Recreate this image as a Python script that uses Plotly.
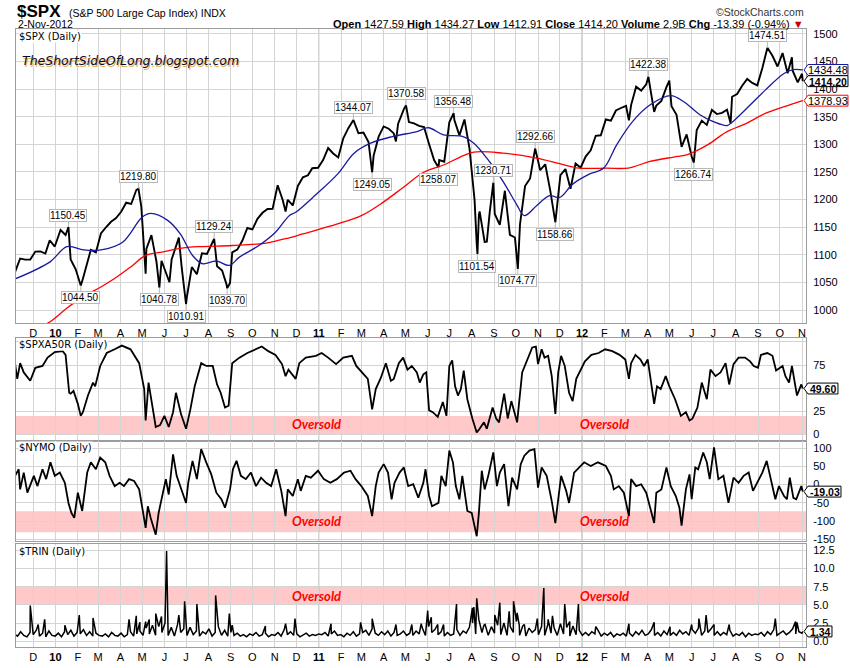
import numpy as np
import pandas as pd
import plotly.graph_objects as go

# ---------------- DATA ----------------
SPX = [
("2009-11-05",1066.6),("2009-11-06",1069.3),("2009-11-13",1093.5),("2009-11-20",1091.4),
("2009-11-27",1091.5),("2009-12-04",1106.0),("2009-12-11",1106.4),("2009-12-18",1102.5),
("2009-12-24",1126.5),("2009-12-31",1115.1),
("2010-01-08",1145.0),("2010-01-15",1136.0),("2010-01-19",1150.45),("2010-01-22",1091.8),
("2010-01-29",1073.9),("2010-02-05",1044.5),("2010-02-08",1056.7),("2010-02-12",1075.5),
("2010-02-19",1109.2),("2010-02-26",1104.5),("2010-03-05",1138.7),("2010-03-12",1150.0),
("2010-03-19",1159.9),("2010-03-26",1166.6),("2010-04-02",1178.1),("2010-04-09",1194.4),
("2010-04-16",1192.1),("2010-04-23",1217.3),("2010-04-26",1219.8),("2010-04-30",1186.7),
("2010-05-06",1065.8),("2010-05-07",1110.9),("2010-05-14",1135.7),("2010-05-21",1087.7),
("2010-05-25",1040.78),("2010-05-28",1089.4),("2010-06-04",1064.9),("2010-06-08",1050.5),
("2010-06-11",1091.6),("2010-06-18",1117.5),("2010-06-21",1131.2),("2010-06-25",1076.8),
("2010-07-01",1010.91),("2010-07-02",1022.6),("2010-07-09",1078.0),("2010-07-16",1064.9),
("2010-07-23",1102.7),("2010-07-30",1101.6),("2010-08-06",1121.6),("2010-08-09",1129.24),
("2010-08-13",1079.3),("2010-08-20",1071.7),("2010-08-26",1047.2),("2010-08-27",1039.7),
("2010-08-31",1049.3),("2010-09-03",1104.5),("2010-09-10",1109.6),("2010-09-17",1125.6),
("2010-09-24",1148.7),("2010-10-01",1146.2),("2010-10-08",1165.2),("2010-10-15",1176.2),
("2010-10-22",1183.1),("2010-10-29",1183.3),("2010-11-05",1225.9),("2010-11-12",1199.2),
("2010-11-16",1178.3),("2010-11-19",1199.7),("2010-11-26",1189.4),("2010-12-03",1224.7),
("2010-12-10",1240.4),("2010-12-17",1243.9),("2010-12-23",1256.8),("2010-12-31",1257.6),
("2011-01-07",1271.5),("2011-01-14",1293.2),("2011-01-21",1283.4),("2011-01-28",1276.3),
("2011-02-04",1310.9),("2011-02-11",1329.2),("2011-02-18",1344.07),("2011-02-25",1319.9),
("2011-03-04",1321.2),("2011-03-11",1304.3),("2011-03-16",1249.05),("2011-03-18",1279.2),
("2011-03-25",1313.8),("2011-04-01",1332.4),("2011-04-08",1328.2),("2011-04-15",1319.7),
("2011-04-18",1305.1),("2011-04-21",1337.4),("2011-04-29",1363.6),("2011-05-02",1370.58),
("2011-05-06",1340.2),("2011-05-13",1337.8),("2011-05-20",1333.3),("2011-05-27",1331.1),
("2011-06-03",1300.2),("2011-06-10",1271.0),("2011-06-16",1258.07),("2011-06-17",1271.5),
("2011-06-24",1268.5),("2011-07-01",1339.7),("2011-07-07",1356.48),("2011-07-08",1343.8),
("2011-07-15",1316.1),("2011-07-22",1345.0),("2011-07-29",1292.3),("2011-08-05",1199.4),
("2011-08-08",1119.5),("2011-08-09",1101.54),("2011-08-11",1172.6),("2011-08-12",1178.8),
("2011-08-19",1123.5),("2011-08-22",1123.8),("2011-08-26",1176.8),("2011-08-31",1230.71),
("2011-09-02",1174.0),("2011-09-09",1154.2),("2011-09-16",1216.0),("2011-09-23",1136.4),
("2011-09-30",1131.4),("2011-10-04",1074.77),("2011-10-07",1155.5),("2011-10-14",1224.6),
("2011-10-21",1238.3),("2011-10-28",1292.66),("2011-11-04",1253.2),("2011-11-11",1263.9),
("2011-11-18",1215.7),("2011-11-25",1158.66),("2011-12-02",1244.3),("2011-12-09",1255.2),
("2011-12-16",1219.7),("2011-12-23",1265.3),("2011-12-30",1257.6),
("2012-01-06",1277.8),("2012-01-13",1289.1),("2012-01-20",1315.4),("2012-01-27",1316.3),
("2012-02-03",1344.9),("2012-02-10",1342.6),("2012-02-17",1361.2),("2012-02-24",1365.7),
("2012-03-02",1369.6),("2012-03-06",1343.4),("2012-03-09",1370.9),("2012-03-16",1404.2),
("2012-03-23",1397.1),("2012-03-30",1408.5),("2012-04-02",1422.38),("2012-04-05",1398.1),
("2012-04-10",1358.6),("2012-04-13",1370.3),("2012-04-20",1378.5),("2012-04-27",1403.4),
("2012-05-01",1415.3),("2012-05-04",1369.1),("2012-05-11",1353.4),("2012-05-18",1295.2),
("2012-05-25",1317.8),("2012-06-01",1278.0),("2012-06-04",1266.74),("2012-06-08",1325.7),
("2012-06-15",1342.8),("2012-06-22",1335.0),("2012-06-29",1362.2),("2012-07-06",1354.7),
("2012-07-13",1356.8),("2012-07-20",1362.7),("2012-07-25",1337.9),("2012-07-27",1386.0),
("2012-08-03",1391.0),("2012-08-10",1405.9),("2012-08-17",1418.2),("2012-08-24",1411.1),
("2012-08-31",1406.6),("2012-09-07",1437.9),("2012-09-14",1474.51),("2012-09-21",1460.2),
("2012-09-28",1440.7),("2012-10-05",1465.0),("2012-10-12",1428.6),("2012-10-18",1457.3),
("2012-10-19",1433.2),("2012-10-26",1411.9),("2012-11-01",1427.6),("2012-11-02",1414.2),
]

MA50 = [
("2009-11-05",1056),("2009-12-24",1087),("2010-01-17",1115),("2010-02-09",1109),("2010-03-05",1109),
("2010-04-04",1123),("2010-05-01",1168),("2010-05-13",1175),("2010-06-06",1162),("2010-06-23",1138),
("2010-07-10",1099),("2010-07-24",1084),("2010-08-12",1089),("2010-08-30",1081),("2010-09-13",1096),
("2010-10-10",1117),("2010-11-02",1141),("2010-11-21",1171),("2010-11-30",1177),("2010-12-29",1210),
("2011-01-27",1246),("2011-02-19",1284),("2011-03-14",1302),("2011-04-13",1314),("2011-05-17",1323),
("2011-06-02",1330),("2011-06-23",1317),("2011-07-20",1314),("2011-08-04",1302),("2011-08-22",1275),
("2011-09-13",1234),("2011-10-02",1192),("2011-10-13",1171),("2011-10-30",1189),("2011-11-17",1207),
("2011-12-01",1204),("2011-12-19",1228),("2012-01-11",1246),("2012-01-31",1257),("2012-02-18",1299),
("2012-03-11",1341),("2012-04-04",1371),("2012-05-03",1388),("2012-05-21",1377),("2012-06-13",1353),
("2012-07-01",1341),("2012-07-20",1334),("2012-07-28",1341),("2012-08-21",1371),("2012-09-11",1398),
("2012-10-07",1428),("2012-10-20",1435),("2012-11-02",1434.48),
]

MA200 = [
("2009-11-05",950),("2009-12-22",977),("2010-01-17",1004),("2010-02-09",1025),("2010-03-05",1042),
("2010-03-27",1060),("2010-04-18",1081),("2010-05-06",1099),("2010-06-01",1106),("2010-06-23",1112),
("2010-07-20",1115),("2010-09-03",1117),("2010-10-18",1121),("2010-11-21",1131),("2010-12-10",1138),
("2011-01-27",1156),("2011-03-01",1171),("2011-03-31",1195),("2011-04-28",1222),("2011-05-26",1249),
("2011-06-24",1263),("2011-07-16",1277),("2011-08-04",1286),("2011-09-13",1284),("2011-10-30",1275),
("2011-12-01",1265),("2011-12-28",1257),("2012-02-04",1257),("2012-03-05",1257),("2012-04-04",1269),
("2012-05-07",1277),("2012-05-25",1281),("2012-06-23",1299),("2012-07-20",1323),("2012-08-16",1338),
("2012-09-11",1356),("2012-10-14",1371),("2012-11-02",1378.93),
]

# swing-point labels: (date, value, H = above / L = below)
PIVOTS = [
("2010-01-19",1150.45,"H"),("2010-02-05",1044.50,"L"),("2010-04-26",1219.80,"H"),
("2010-05-25",1040.78,"L"),("2010-07-01",1010.91,"L"),("2010-08-09",1129.24,"H"),
("2010-08-27",1039.70,"L"),("2011-02-18",1344.07,"H"),("2011-03-16",1249.05,"L"),
("2011-05-02",1370.58,"H"),("2011-06-16",1258.07,"L"),("2011-07-07",1356.48,"H"),
("2011-08-09",1101.54,"L"),("2011-08-31",1230.71,"H"),("2011-10-04",1074.77,"L"),
("2011-10-28",1292.66,"H"),("2011-11-25",1158.66,"L"),("2012-04-02",1422.38,"H"),
("2012-06-04",1266.74,"L"),("2012-09-14",1474.51,"H"),
]

SPXA50R = [
("2009-11-06",76),("2009-11-09",60),("2009-11-13",77),("2009-11-18",67),("2009-11-27",58),
("2009-12-04",72),("2009-12-14",74),("2009-12-21",83),("2009-12-31",89),("2010-01-11",90),
("2010-01-15",86),("2010-01-20",45),("2010-01-22",44),("2010-01-26",47),("2010-02-01",33),
("2010-02-05",20),("2010-02-08",24),("2010-02-15",42),("2010-02-22",56),("2010-02-25",52),
("2010-03-04",74),("2010-03-13",88),("2010-03-24",92),("2010-04-03",96),("2010-04-15",92),
("2010-04-22",83),("2010-04-27",77),("2010-05-04",49),("2010-05-06",15),("2010-05-10",56),
("2010-05-14",38),("2010-05-20",8),("2010-05-26",10),("2010-06-01",20),("2010-06-07",8),
("2010-06-13",24),("2010-06-17",45),("2010-06-24",22),("2010-07-01",6),("2010-07-07",27),
("2010-07-13",52),("2010-07-22",77),("2010-07-29",74),("2010-08-07",74),("2010-08-13",54),
("2010-08-18",45),("2010-08-24",29),("2010-08-29",31),("2010-09-03",77),("2010-09-13",83),
("2010-09-24",88),("2010-10-05",92),("2010-10-14",95),("2010-10-23",90),("2010-11-02",86),
("2010-11-11",76),("2010-11-16",63),("2010-11-20",70),("2010-11-30",60),("2010-12-05",77),
("2010-12-14",83),("2010-12-28",85),("2011-01-05",88),("2011-01-14",83),("2011-01-25",76),
("2011-02-04",83),("2011-02-16",85),("2011-02-22",74),("2011-03-02",67),("2011-03-10",60),
("2011-03-16",27),("2011-03-21",49),("2011-03-28",61),("2011-04-04",77),("2011-04-11",58),
("2011-04-15",60),("2011-04-22",77),("2011-04-28",83),("2011-05-04",70),("2011-05-10",74),
("2011-05-17",67),("2011-05-21",56),("2011-05-26",65),("2011-05-30",67),("2011-06-03",26),
("2011-06-08",24),("2011-06-15",19),("2011-06-22",35),("2011-06-27",20),("2011-07-01",74),
("2011-07-05",80),("2011-07-09",52),("2011-07-13",42),("2011-07-17",49),("2011-07-21",69),
("2011-07-26",38),("2011-08-02",17),("2011-08-08",2),("2011-08-12",6),("2011-08-18",13),
("2011-08-22",6),("2011-08-30",29),("2011-09-04",17),("2011-09-08",13),("2011-09-15",44),
("2011-09-20",17),("2011-09-25",36),("2011-10-03",13),("2011-10-10",67),("2011-10-17",81),
("2011-10-24",94),("2011-10-29",95),("2011-11-01",76),("2011-11-06",92),("2011-11-10",83),
("2011-11-15",85),("2011-11-20",63),("2011-11-25",22),("2011-11-29",67),("2011-12-03",85),
("2011-12-08",74),("2011-12-14",45),("2011-12-19",36),("2011-12-24",60),("2011-12-30",70),
("2012-01-05",79),("2012-01-14",86),("2012-01-24",88),("2012-02-02",92),("2012-02-12",90),
("2012-02-22",86),("2012-03-01",81),("2012-03-06",60),("2012-03-09",77),("2012-03-15",86),
("2012-03-22",81),("2012-03-27",74),("2012-04-01",81),("2012-04-05",60),("2012-04-10",33),
("2012-04-14",52),("2012-04-19",49),("2012-04-26",63),("2012-05-01",52),("2012-05-09",38),
("2012-05-17",20),("2012-05-24",24),("2012-05-29",15),("2012-06-02",17),("2012-06-09",29),
("2012-06-15",56),("2012-06-22",38),("2012-06-27",70),("2012-07-04",63),("2012-07-11",67),
("2012-07-18",77),("2012-07-23",54),("2012-07-29",76),("2012-08-05",83),("2012-08-14",83),
("2012-08-21",79),("2012-08-26",74),("2012-09-01",72),("2012-09-05",86),("2012-09-14",88),
("2012-09-21",85),("2012-09-26",69),("2012-10-05",74),("2012-10-09",63),("2012-10-14",56),
("2012-10-18",74),("2012-10-25",42),("2012-10-31",54),("2012-11-02",49.6),
]

NYMO = [
("2009-11-06",24),("2009-11-11",42),("2009-11-13",-13),("2009-11-18",33),("2009-11-23",-22),
("2009-11-28",5),("2009-12-02",24),("2009-12-07",-4),("2009-12-14",42),("2009-12-19",15),
("2009-12-25",61),("2009-12-31",24),("2010-01-07",33),("2010-01-14",5),("2010-01-19",-50),
("2010-01-23",-77),("2010-01-27",-91),("2010-02-01",-22),("2010-02-07",-72),("2010-02-14",33),
("2010-02-19",61),("2010-02-26",42),("2010-03-04",74),("2010-03-11",61),("2010-03-17",24),
("2010-03-24",-4),("2010-03-31",5),("2010-04-06",-4),("2010-04-13",15),("2010-04-20",10),
("2010-04-27",-13),("2010-05-06",-118),("2010-05-09",-59),("2010-05-13",-91),("2010-05-20",-137),
("2010-05-24",-77),("2010-05-29",-31),("2010-06-03",15),("2010-06-07",-27),("2010-06-13",83),
("2010-06-18",24),("2010-06-25",-13),("2010-07-01",-50),("2010-07-04",5),("2010-07-10",65),
("2010-07-16",15),("2010-07-22",97),("2010-07-29",61),("2010-08-05",28),("2010-08-12",-22),
("2010-08-19",-40),("2010-08-24",-63),("2010-08-31",-13),("2010-09-04",42),("2010-09-09",65),
("2010-09-15",24),("2010-09-22",15),("2010-09-29",33),("2010-10-06",-4),("2010-10-13",19),
("2010-10-20",5),("2010-10-27",-4),("2010-11-03",42),("2010-11-10",-17),("2010-11-16",-86),
("2010-11-19",-13),("2010-11-26",-31),("2010-12-03",15),("2010-12-07",-17),("2010-12-14",24),
("2010-12-21",19),("2010-12-31",38),("2011-01-08",15),("2011-01-17",5),("2011-01-26",15),
("2011-02-05",33),("2011-02-14",38),("2011-02-21",15),("2011-03-01",-4),("2011-03-10",-31),
("2011-03-16",-86),("2011-03-21",-4),("2011-03-25",33),("2011-04-01",56),("2011-04-07",33),
("2011-04-12",-40),("2011-04-16",5),("2011-04-23",33),("2011-04-29",47),("2011-05-05",-4),
("2011-05-12",1),("2011-05-19",-36),("2011-05-26",5),("2011-05-29",42),("2011-06-03",-31),
("2011-06-07",-59),("2011-06-16",-50),("2011-06-20",24),("2011-06-26",-4),("2011-07-01",93),
("2011-07-06",61),("2011-07-10",-4),("2011-07-15",-40),("2011-07-19",24),("2011-07-26",-72),
("2011-08-01",-77),("2011-08-08",-141),("2011-08-11",-77),("2011-08-15",38),("2011-08-19",-13),
("2011-08-24",24),("2011-08-31",88),("2011-09-05",-4),("2011-09-09",33),("2011-09-15",56),
("2011-09-21",-59),("2011-09-26",19),("2011-10-03",-13),("2011-10-08",56),("2011-10-13",79),
("2011-10-20",93),("2011-10-27",97),("2011-11-01",-8),("2011-11-06",47),("2011-11-13",24),
("2011-11-20",-45),("2011-11-25",-105),("2011-11-29",-40),("2011-12-03",24),("2011-12-10",-17),
("2011-12-14",-50),("2011-12-21",33),("2011-12-28",47),("2012-01-04",61),("2012-01-13",51),
("2012-01-23",61),("2012-02-03",51),("2012-02-10",24),("2012-02-14",-13),("2012-02-21",-4),
("2012-02-28",-22),("2012-03-06",-86),("2012-03-09",15),("2012-03-16",-4),("2012-03-23",1),
("2012-03-30",-22),("2012-04-10",-105),("2012-04-13",-22),("2012-04-20",-13),("2012-04-27",47),
("2012-05-03",-4),("2012-05-10",-31),("2012-05-15",-63),("2012-05-18",-112),("2012-05-24",-13),
("2012-05-29",28),("2012-06-01",-40),("2012-06-06",47),("2012-06-10",42),("2012-06-17",88),
("2012-06-22",61),("2012-06-26",15),("2012-07-02",102),("2012-07-08",15),("2012-07-15",24),
("2012-07-22",-50),("2012-07-29",19),("2012-08-05",5),("2012-08-12",24),("2012-08-19",33),
("2012-08-25",-17),("2012-08-31",5),("2012-09-07",33),("2012-09-13",65),("2012-09-20",5),
("2012-09-25",-40),("2012-09-30",-4),("2012-10-07",-31),("2012-10-11",-40),("2012-10-15",19),
("2012-10-20",-36),("2012-10-24",-40),("2012-10-31",-4),("2012-11-02",-19.03),
]

# TRIN: everyday readings (evenly spread over the period) + the visible spikes
TRIN_BASE = [
1.0,0.7,1.3,0.8,0.6,1.2,0.9,1.5,0.7,1.1,0.6,1.4,0.8,0.7,
1.1,0.6,1.3,0.9,1.5,0.7,1.2,1.0,1.6,0.8,1.3,0.7,1.1,0.8,
0.7,1.0,0.6,1.2,0.8,0.7,1.1,0.6,0.9,1.3,0.7,1.0,1.4,0.8,
1.8,1.0,2.2,0.8,2.0,1.2,2.5,0.8,1.9,0.7,2.3,1.2,1.7,0.8,
1.9,0.9,1.4,0.7,1.3,1.0,1.7,0.7,1.2,2.0,0.8,1.5,0.7,1.2,
0.8,1.1,0.7,0.9,0.6,1.0,0.8,1.2,0.7,0.9,1.1,0.6,0.9,0.8,
1.2,0.7,1.6,0.9,1.3,0.8,1.0,0.6,0.9,1.1,0.7,0.9,0.8,1.0,
0.9,1.2,0.7,1.0,1.4,0.8,0.9,0.6,1.1,0.8,1.3,0.7,1.0,1.2,
1.5,0.8,1.7,1.1,0.8,1.3,0.9,1.4,0.7,1.2,0.8,1.0,1.4,0.8,
1.1,0.8,1.4,1.0,1.8,0.8,2.0,1.2,1.6,0.9,1.3,0.7,1.2,0.8,
1.0,1.6,0.8,1.4,1.1,1.9,2.5,1.0,3.0,1.2,2.3,0.8,2.0,1.1,
2.2,0.9,2.5,0.8,2.0,1.2,2.7,0.8,2.1,0.7,1.8,1.2,1.6,0.9,
2.0,0.8,2.3,1.1,1.8,0.8,2.4,1.0,1.9,0.7,2.1,0.9,1.5,0.8,
1.2,0.8,1.3,1.0,1.5,0.7,1.1,0.8,1.2,0.6,1.0,0.8,1.1,0.7,
1.1,0.7,1.3,0.9,1.5,0.8,1.0,1.6,0.8,1.2,0.7,1.4,0.9,0.8,
1.2,0.8,1.5,1.0,1.3,0.8,1.6,1.1,1.8,0.8,1.4,1.2,1.7,0.8,
1.3,0.8,1.2,0.9,1.5,0.7,1.0,0.8,1.2,0.6,1.1,0.8,1.0,0.9,
1.2,0.7,1.3,0.9,1.6,0.8,1.1,1.4,0.9,1.2,1.7,1.0,1.3,1.1,
]
TRIN_SPIKES = [
("2009-11-27",4.9),("2009-12-08",2.3),("2009-12-17",3.0),("2010-01-14",2.2),("2010-02-03",3.6),
("2010-02-22",3.2),("2010-04-13",3.0),("2010-04-23",3.5),("2010-04-28",2.6),("2010-05-06",2.7),
("2010-05-11",3.0),("2010-05-20",3.8),("2010-05-28",3.4),("2010-06-04",12.4),("2010-06-21",3.6),
("2010-06-29",5.5),("2010-07-16",5.1),("2010-08-11",6.3),("2010-08-30",3.8),("2010-09-03",2.2),
("2010-10-19",2.1),("2010-11-16",2.4),("2010-11-29",3.1),("2011-01-18",2.4),("2011-02-28",2.6),
("2011-03-16",3.1),("2011-04-18",2.3),("2011-05-10",2.3),("2011-05-23",2.4),("2011-06-01",4.2),
("2011-06-06",3.3),("2011-06-15",2.3),("2011-06-23",2.3),("2011-07-11",5.1),("2011-08-02",4.6),
("2011-08-04",4.7),("2011-08-08",5.9),("2011-08-18",2.2),("2011-09-02",3.6),("2011-09-09",5.3),
("2011-09-22",4.1),("2011-09-28",5.5),("2011-10-03",3.9),("2011-10-06",2.2),("2011-10-13",2.3),
("2011-10-31",3.1),("2011-11-09",7.3),("2011-11-15",3.0),("2011-11-21",3.5),("2011-12-08",5.1),
("2011-12-15",2.7),("2011-12-27",5.1),("2012-01-20",2.0),("2012-03-06",2.4),("2012-04-10",2.6),
("2012-05-02",2.0),("2012-06-01",2.3),("2012-06-11",3.1),("2012-06-21",3.6),("2012-07-02",2.3),
("2012-07-23",2.3),("2012-09-25",3.1),("2012-10-23",2.7),("2012-10-25",2.6),("2012-11-02",1.34),
]

MONTH_LETTERS = ["J","F","M","A","M","J","J","A","S","O","N","D"]

# ---------------- GEOMETRY / STYLE ----------------
W, H = 850, 668
L, R = 16, 806.5
FONT = "Liberation Sans, Arial, sans-serif"
GRID = "#d4d4d4"
FRAME = "#9c9c9c"

def xp(px):  # pixel -> paper x
    return (px - L) / (R - L)

def yp(py):  # pixel -> paper y
    return 1 - py / H

D1 = [yp(325), yp(28)]
D2 = [yp(443.5), yp(340)]
D3 = [yp(544.5), yp(443.5)]
D4 = [yp(652), yp(548)]
R1 = [976.7, 1509.0]
R2 = [-6.65, 104.3]
R3 = [-153.0, 120.6]
R4 = [-0.82, 13.36]
XR = ["2009-11-07 06:00", "2012-11-06 12:00"]

def val_py(v, rng, dom):
    f = (v - rng[0]) / (rng[1] - rng[0])
    return (1 - (dom[0] + f * (dom[1] - dom[0]))) * H

def split(pairs):
    return [p[0] for p in pairs], [p[1] for p in pairs]

# ---------------- FIGURE ----------------
fig = go.Figure()

sx, sy = split(SPX)
m50x, m50y = split(MA50)
m200x, m200y = split(MA200)
fig.add_trace(go.Scatter(x=sx, y=sy, mode="lines", line=dict(color="black", width=1.9),
                         xaxis="x", yaxis="y"))
fig.add_trace(go.Scatter(x=m200x, y=m200y, mode="lines", line=dict(color="#ff0000", width=1.3, shape="spline"),
                         xaxis="x", yaxis="y"))
fig.add_trace(go.Scatter(x=m50x, y=m50y, mode="lines", line=dict(color="#1a1a9c", width=1.3, shape="spline"),
                         xaxis="x", yaxis="y"))

ax_, ay_ = split(SPXA50R)
fig.add_trace(go.Scatter(x=ax_, y=ay_, mode="lines", line=dict(color="black", width=1.8),
                         xaxis="x2", yaxis="y2"))
nx_, ny_ = split(NYMO)
fig.add_trace(go.Scatter(x=nx_, y=ny_, mode="lines", line=dict(color="black", width=1.8),
                         xaxis="x3", yaxis="y3"))

t0, t1 = pd.Timestamp("2009-11-05"), pd.Timestamp("2012-11-01")
base_dates = pd.to_datetime(np.linspace(t0.value, t1.value, len(TRIN_BASE)))
tdf = pd.concat([
    pd.DataFrame({"d": base_dates, "v": TRIN_BASE}),
    pd.DataFrame({"d": pd.to_datetime([p[0] for p in TRIN_SPIKES]), "v": [p[1] for p in TRIN_SPIKES]}),
]).sort_values("d")
fig.add_trace(go.Scatter(x=tdf["d"], y=tdf["v"], mode="lines", line=dict(color="black", width=1.5),
                         xaxis="x4", yaxis="y4"))

# x ticks: month starts
tickv = pd.date_range("2009-12-01", "2012-11-01", freq="MS")
tickt = [("<b>%02d</b>" % (d.year % 100)) if d.month == 1 else MONTH_LETTERS[d.month - 1] for d in tickv]

def xaxis(anchor, labels):
    return dict(domain=[0, 1], anchor=anchor, range=XR, type="date",
                tickvals=list(tickv), ticktext=tickt, showticklabels=labels,
                tickfont=dict(family=FONT, size=11, color="black"), ticks="",
                showgrid=True, gridcolor=GRID, gridwidth=1, zeroline=False,
                showline=True, mirror=True, linecolor=FRAME, linewidth=1)

def yaxis(anchor, dom, rng, tv, tt):
    return dict(domain=dom, anchor=anchor, range=rng, side="right",
                tickvals=tv, ticktext=tt, tickfont=dict(family=FONT, size=11, color="black"),
                ticks="", ticklabelstandoff=4, showgrid=True, gridcolor=GRID, gridwidth=1,
                zeroline=False, showline=True, mirror=True, linecolor=FRAME, linewidth=1)

yt1 = list(range(1000, 1501, 50))
layout = dict(
    width=W, height=H, margin=dict(l=L, r=W - R, t=0, b=0),
    paper_bgcolor="white", plot_bgcolor="white", showlegend=False, hovermode=False,
    xaxis=xaxis("y", True), xaxis2=dict(xaxis("y2", False), matches="x"),
    xaxis3=dict(xaxis("y3", False), matches="x"), xaxis4=dict(xaxis("y4", True), matches="x"),
    yaxis=yaxis("x", D1, R1, yt1, [str(v) for v in yt1]),
    yaxis2=yaxis("x2", D2, R2, [0, 25, 50, 75, 100], ["0", "25", "50", "75", ""]),
    yaxis3=yaxis("x3", D3, R3, [-150, -100, -50, 0, 50, 100], ["-150", "-100", "-50", "0", "50", "100"]),
    yaxis4=yaxis("x4", D4, R4, [0, 2.5, 5, 7.5, 10, 12.5], ["0.0", "2.5", "5.0", "7.5", "10.0", "12.5"]),
)
fig.update_layout(**layout)

shapes = []
# oversold bands
for yref, lo, hi in [("y2", 0, 20), ("y3", -130, -73), ("y4", 5.0, 7.5)]:
    shapes.append(dict(type="rect", xref="paper", yref=yref, x0=0, x1=1, y0=lo, y1=hi,
                       fillcolor="#ffc9c9", line=dict(width=0), layer="below"))
# darker year lines
for yr in ["2010-01-01", "2011-01-01", "2012-01-01"]:
    for dom in [D1, D2, D3, D4]:
        shapes.append(dict(type="line", xref="x", yref="paper", x0=yr, x1=yr, y0=dom[0], y1=dom[1],
                           line=dict(color="#a8a8a8", width=1), layer="between"))

annotations = []

# right-side value tags
def value_tag(v, rng, dom, text, color, bold, width):
    c = val_py(v, rng, dom)
    h = 5.5
    tip, x0, x1 = 804.5, 808.5, 808.5 + width
    path = (f"M {xp(tip)},{yp(c)} L {xp(x0)},{yp(c - h)} L {xp(x1)},{yp(c - h)} "
            f"L {xp(x1)},{yp(c + h)} L {xp(x0)},{yp(c + h)} Z")
    shapes.append(dict(type="path", xref="paper", yref="paper", path=path,
                       fillcolor="white", line=dict(color=color, width=1), layer="above"))
    annotations.append(dict(xref="paper", yref="paper", x=xp((x0 + x1) / 2 + 0.5), y=yp(c + 0.5),
                            text=("<b>%s</b>" % text) if bold else text, showarrow=False,
                            xanchor="center", yanchor="middle",
                            font=dict(family=FONT, size=10.5 if bold else 11, color="black")))

value_tag(1434.48, R1, D1, "1434.48", "#1a1a9c", False, 40)
value_tag(1414.20, R1, D1, "1414.20", "black", True, 40)
value_tag(1378.93, R1, D1, "1378.93", "#ff0000", False, 40)
value_tag(49.60, R2, D2, "49.60", "black", True, 30)
value_tag(-19.03, R3, D3, "-19.03", "black", True, 33)
value_tag(1.34, R4, D4, "1.34", "black", True, 24)

# swing labels
for d, v, k in PIVOTS:
    annotations.append(dict(xref="x", yref="y", x=d, y=v, text="%.2f" % v, showarrow=True,
                            ax=0, ay=-12 if k == "H" else 12, arrowcolor="#b8b8b8", arrowwidth=1,
                            arrowhead=0, standoff=0, bordercolor="#b8b8b8", borderwidth=1,
                            borderpad=0, bgcolor="white",
                            font=dict(family=FONT, size=10, color="black")))

# panel titles
for py, txt in [(36, "$SPX (Daily)"), (347, "$SPXA50R (Daily)"), (451, "$NYMO (Daily)"), (555, "$TRIN (Daily)")]:
    annotations.append(dict(xref="paper", yref="paper", x=xp(18), y=yp(py), text=txt, showarrow=False,
                            xanchor="left", yanchor="middle", bgcolor="white", borderpad=0,
                            font=dict(family="DejaVu Sans, Verdana, sans-serif", size=10, color="black")))

# watermark
for dx, dy, col in [(1.2, 1.2, "#e9b25c"), (0, 0, "#0b0b2e")]:
    annotations.append(dict(xref="paper", yref="paper", x=xp(20 + dx), y=yp(60.5 + dy),
                            text="<i>TheShortSideOfLong.blogspot.com</i>", showarrow=False,
                            xanchor="left", yanchor="middle",
                            font=dict(family="DejaVu Sans, Verdana, sans-serif", size=12.5, color=col)))

# oversold labels
for py in [427, 525, 600]:
    for px in [317, 605]:
        annotations.append(dict(xref="paper", yref="paper", x=xp(px), y=yp(py),
                                text="<b><i>Oversold</i></b>", showarrow=False,
                                xanchor="center", yanchor="middle",
                                font=dict(family="Lato, Open Sans, sans-serif", size=13, color="#ff0000")))

# header
annotations += [
    dict(xref="paper", yref="paper", x=xp(15), y=yp(11), text="<b>$SPX</b>", showarrow=False,
         xanchor="left", yanchor="middle", font=dict(family=FONT, size=17, color="black")),
    dict(xref="paper", yref="paper", x=xp(67), y=yp(12), text="(S&P 500 Large Cap Index) INDX",
         showarrow=False, xanchor="left", yanchor="middle", font=dict(family=FONT, size=10.5, color="black")),
    dict(xref="paper", yref="paper", x=xp(16), y=yp(23.5), text="2-Nov-2012", showarrow=False,
         xanchor="left", yanchor="middle", font=dict(family=FONT, size=10.5, color="black")),
    dict(xref="paper", yref="paper", x=xp(806), y=yp(11), text="©StockCharts.com", showarrow=False,
         xanchor="right", yanchor="middle", font=dict(family=FONT, size=10.5, color="#333333")),
    dict(xref="paper", yref="paper", x=xp(806), y=yp(23.5),
         text=("<b>Open</b> 1427.59 <b>High</b> 1434.27 <b>Low</b> 1412.91 <b>Close</b> 1414.20 "
               "<b>Volume</b> 2.9B <b>Chg</b> -13.39 (-0.94%) <span style='color:#cc0000'>▼</span>"),
         showarrow=False, xanchor="right", yanchor="middle", font=dict(family=FONT, size=11, color="black")),
]

fig.update_layout(shapes=shapes, annotations=annotations)
fig.write_html("out.html", config={"displayModeBar": False})
